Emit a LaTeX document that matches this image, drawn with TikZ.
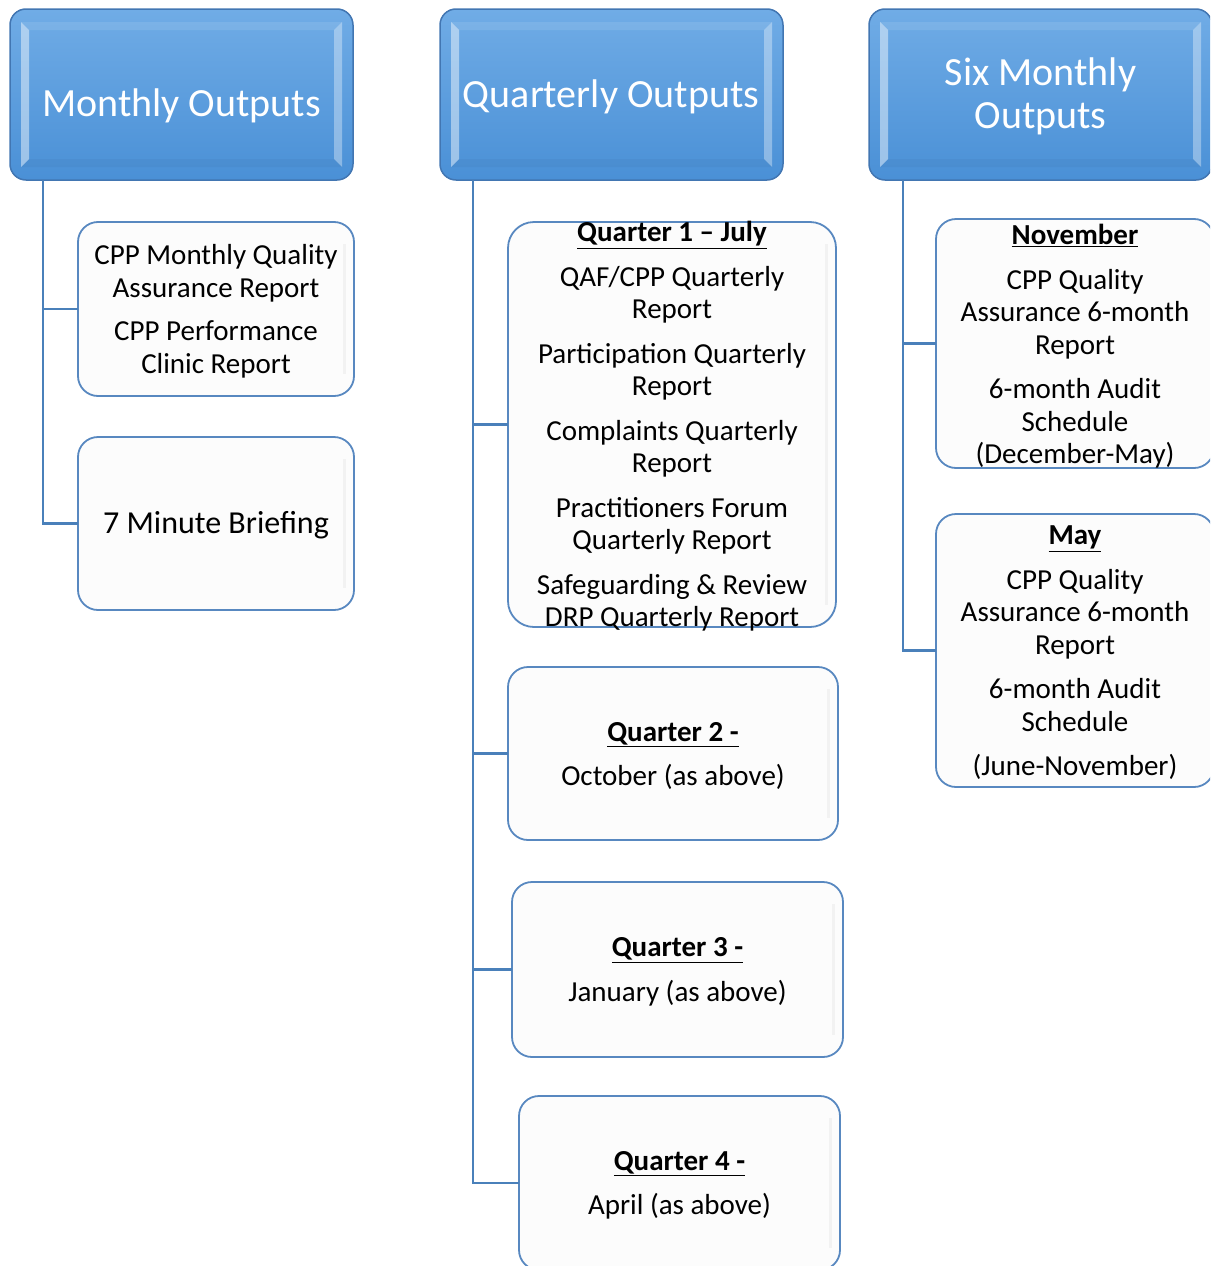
\documentclass[tikz,border=0pt]{standalone}
\usepackage{fontspec}
\setmainfont{Carlito}
\usetikzlibrary{calc}
\definecolor{hdrtop}{RGB}{112,172,230}
\definecolor{hdrbot}{RGB}{74,144,214}
\definecolor{hdrline}{RGB}{66,118,178}
\definecolor{childline}{RGB}{88,136,192}
\definecolor{connc}{RGB}{74,128,186}
\newcommand\bodyfont{\fontsize{29}{32.5}\selectfont}
\newcommand\hdrfont{\fontsize{40}{43}\selectfont}
\newcommand\bigbody{\fontsize{32}{36}\selectfont}
\newcommand\ttl[1]{\underline{\textbf{#1}}}
\newcommand\hdrbevel[1]{%
  \fill[white,opacity=0.45] ($(#1.north west)+(11,13)$) -- ($(#1.north west)+(19,21)$) -- ($(#1.south west)+(19,-21)$) -- ($(#1.south west)+(11,-13)$) -- cycle;
  \fill[white,opacity=0.35] ($(#1.north east)+(-11,13)$) -- ($(#1.north east)+(-19,21)$) -- ($(#1.south east)+(-19,-21)$) -- ($(#1.south east)+(-11,-13)$) -- cycle;
  \fill[white,opacity=0.10] ($(#1.north west)+(11,13)$) -- ($(#1.north west)+(19,21)$) -- ($(#1.north east)+(-19,21)$) -- ($(#1.north east)+(-11,13)$) -- cycle;
  \fill[black,opacity=0.03] ($(#1.south west)+(11,-13)$) -- ($(#1.south west)+(19,-21)$) -- ($(#1.south east)+(-19,-21)$) -- ($(#1.south east)+(-11,-13)$) -- cycle;
}
\newcommand\childshade[1]{%
  \draw[black!5,line width=3pt] ($(#1.north east)+(-10,22)$) -- ($(#1.south east)+(-10,-22)$);
}
\begin{document}
\begin{tikzpicture}[x=1pt,y=-1pt,
  hdr/.style={draw=hdrline, line width=1.5pt, rounded corners=16pt, top color=hdrtop, bottom color=hdrbot, minimum width=343pt, minimum height=171pt, anchor=north west, inner sep=0pt, outer sep=0pt},
  child/.style={draw=childline, line width=1.8pt, rounded corners=20pt, fill=black!1, anchor=north west, inner sep=0pt, outer sep=0pt},
  conn/.style={draw=connc, line width=2.4pt},
  htxt/.style={text=white, font=\hdrfont, align=center, inner sep=0pt},
  btxt/.style={text=black, font=\bodyfont, align=center, inner sep=0pt}]
\clip (0,0) rectangle (1210,1266);

% header boxes
\node[hdr] (mh) at (10,9) {};
\node[hdr] (qh) at (440,9) {};
\node[hdr] (sh) at (869,9) {};
\hdrbevel{mh}
\hdrbevel{qh}
\hdrbevel{sh}
\node[htxt] (mht) at (181.5,105.5) {Monthly Outputs};
\node[htxt] (qht) at (611,96.5) {Quarterly Outputs};
\node[htxt] (sht) at (1040.5,96) {Six Monthly\\Outputs};

% child boxes
\node[child, minimum width=276pt, minimum height=174pt] (mc1) at (78,222) {};
\node[child, minimum width=276pt, minimum height=173pt] (mc2) at (78,437) {};
\node[child, minimum width=328pt, minimum height=405pt, rounded corners=26pt] (q1) at (508,222) {};
\node[child, minimum width=330pt, minimum height=173pt] (q2) at (508,667) {};
\node[child, minimum width=331pt, minimum height=175pt] (q3) at (512,882) {};
\node[child, minimum width=321pt, minimum height=174pt] (q4) at (519,1096) {};
\node[child, minimum width=278pt, minimum height=249pt] (nov) at (936,219) {};
\node[child, minimum width=278pt, minimum height=273pt] (may) at (936,514) {};
\childshade{mc1}\childshade{mc2}\childshade{q1}\childshade{q2}\childshade{q3}\childshade{q4}

% connectors
\coordinate (mtr) at ($(mh.south west)+(33,0)$);
\coordinate (qtr) at ($(qh.south west)+(33,0)$);
\coordinate (str) at ($(sh.south west)+(34,0)$);
\draw[conn] (mtr) |- (mc1.west);
\draw[conn] (mtr) |- (mc2.west);
\draw[conn] (qtr) |- (q1.west);
\draw[conn] (qtr) |- (q2.west);
\draw[conn] (qtr) |- (q3.west);
\draw[conn] (qtr) |- (q4.west);
\draw[conn] (str) |- (nov.west);
\draw[conn] (str) |- (may.west);

% texts
\node[btxt] (mc1t) at (216,311.5) {CPP Monthly Quality\\Assurance Report\\[11pt]CPP Performance\\Clinic Report};
\node[btxt, font=\bigbody] (mc2t) at (216,525.5) {7 Minute Briefing};
\node[btxt] (q1t) at (672,426.5) {\ttl{Quarter 1 – July}\\[12pt]QAF/CPP Quarterly\\Report\\[12pt]Participation Quarterly\\Report\\[12pt]Complaints Quarterly\\Report\\[12pt]Practitioners Forum\\Quarterly Report\\[12pt]Safeguarding \& Review\\DRP Quarterly Report};
\node[btxt] (q2t) at (673,756) {\ttl{Quarter 2 -}\\[12pt]October (as above)};
\node[btxt] (q3t) at (677.5,972) {\ttl{Quarter 3 -}\\[12pt]January (as above)};
\node[btxt] (q4t) at (679.5,1185.5) {\ttl{Quarter 4 -}\\[12pt]April (as above)};
\node[btxt] (novt) at (1075,346.5) {\ttl{November}\\[12pt]CPP Quality\\Assurance 6-month\\Report\\[12pt]6-month Audit\\Schedule\\(December-May)};
\node[btxt] (mayt) at (1075,653) {\ttl{May}\\[12pt]CPP Quality\\Assurance 6-month\\Report\\[12pt]6-month Audit\\Schedule\\[12pt](June-November)};
\end{tikzpicture}
\end{document}
